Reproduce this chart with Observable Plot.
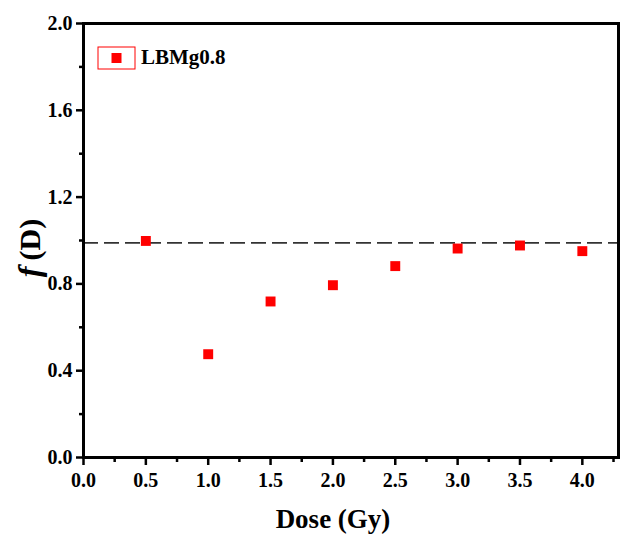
<!DOCTYPE html>
<html>
<head>
<meta charset="utf-8">
<script src="https://cdn.jsdelivr.net/npm/d3@7"></script>
<script src="https://cdn.jsdelivr.net/npm/@observablehq/plot@0.6"></script>
<style>
  html, body { margin: 0; padding: 0; background: #fff; }
  #chart { position: relative; width: 622px; height: 537px; }
  #chart svg text { font-family: "Liberation Serif", "Times New Roman", serif; font-weight: bold; }
</style>
</head>
<body>
<div id="chart"></div>
<script>
// Data
const doses = [0.5, 1.0, 1.5, 2.0, 2.5, 3.0, 3.5, 4.0];
const fD = [0.998, 0.476, 0.719, 0.794, 0.882, 0.963, 0.977, 0.951];
const referenceLevel = [0.989];
const seriesName = "LBMg0.8";
const xMajorTicks = [0, 0.5, 1.0, 1.5, 2.0, 2.5, 3.0, 3.5, 4.0];
const xMinorTicks = [0.25, 0.75, 1.25, 1.75, 2.25, 2.75, 3.25, 3.75, 4.25];
const yMajorTicks = [0, 0.4, 0.8, 1.2, 1.6, 2.0];
const yMinorTicks = [0.2, 0.6, 1.0, 1.4, 1.8];

const data = doses.map((d, i) => ({dose: d, f: fD[i]}));
const font = "'Liberation Serif', 'Times New Roman', serif";

const chart = Plot.plot({
  width: 622,
  height: 537,
  marginLeft: 83,
  marginTop: 23,
  marginRight: 4,
  marginBottom: 80,
  style: {fontFamily: font, fontWeight: "bold", fontSize: "20px", color: "#000", background: "#fff"},
  x: {domain: [0, 4.29]},
  y: {domain: [0, 2]},
  marks: [
    Plot.ruleY(referenceLevel, {stroke: "#333", strokeWidth: 1.6, strokeDasharray: "15,6"}),
    Plot.dot(data, {x: "dose", y: "f", symbol: "square", r: 5.6, fill: "#ff0000", stroke: "none"}),
    Plot.frame({stroke: "#000", strokeWidth: 3}),
    Plot.axisX({ticks: xMajorTicks, tickFormat: d3.format(".1f"), tickSize: 8, tickPadding: 7, stroke: "#000", strokeWidth: 2.5, label: null}),
    Plot.axisX({ticks: xMinorTicks, tickFormat: () => "", tickSize: 5, stroke: "#000", strokeWidth: 2.5, label: null}),
    Plot.axisY({ticks: yMajorTicks, tickFormat: d3.format(".1f"), tickSize: 7, tickPadding: 4, stroke: "#000", strokeWidth: 2.5, label: null}),
    Plot.axisY({ticks: yMinorTicks, tickFormat: () => "", tickSize: 4, stroke: "#000", strokeWidth: 2.5, label: null})
  ]
});

document.getElementById("chart").appendChild(chart);

const svg = d3.select(chart);

// X axis title
svg.append("text")
  .attr("x", 333).attr("y", 528)
  .attr("text-anchor", "middle")
  .attr("font-size", 27)
  .text("Dose (Gy)");

// Y axis title
const yt = svg.append("text")
  .attr("transform", "translate(40,248) rotate(-90)")
  .attr("text-anchor", "middle")
  .attr("font-size", 30);
yt.append("tspan").attr("font-style", "italic").attr("font-size", 32).text("f");
yt.append("tspan").attr("dx", 6).text("(D)");

// Legend
const lg = svg.append("g");
lg.append("rect").attr("x", 98).attr("y", 47).attr("width", 37).attr("height", 22)
  .attr("fill", "none").attr("stroke", "#ff0000").attr("stroke-width", 1);
lg.append("rect").attr("x", 111.5).attr("y", 53).attr("width", 10).attr("height", 10)
  .attr("fill", "#ff0000");
lg.append("text").attr("x", 141).attr("y", 64)
  .attr("text-anchor", "start")
  .attr("font-size", 21)
  .text(seriesName);
</script>
</body>
</html>
